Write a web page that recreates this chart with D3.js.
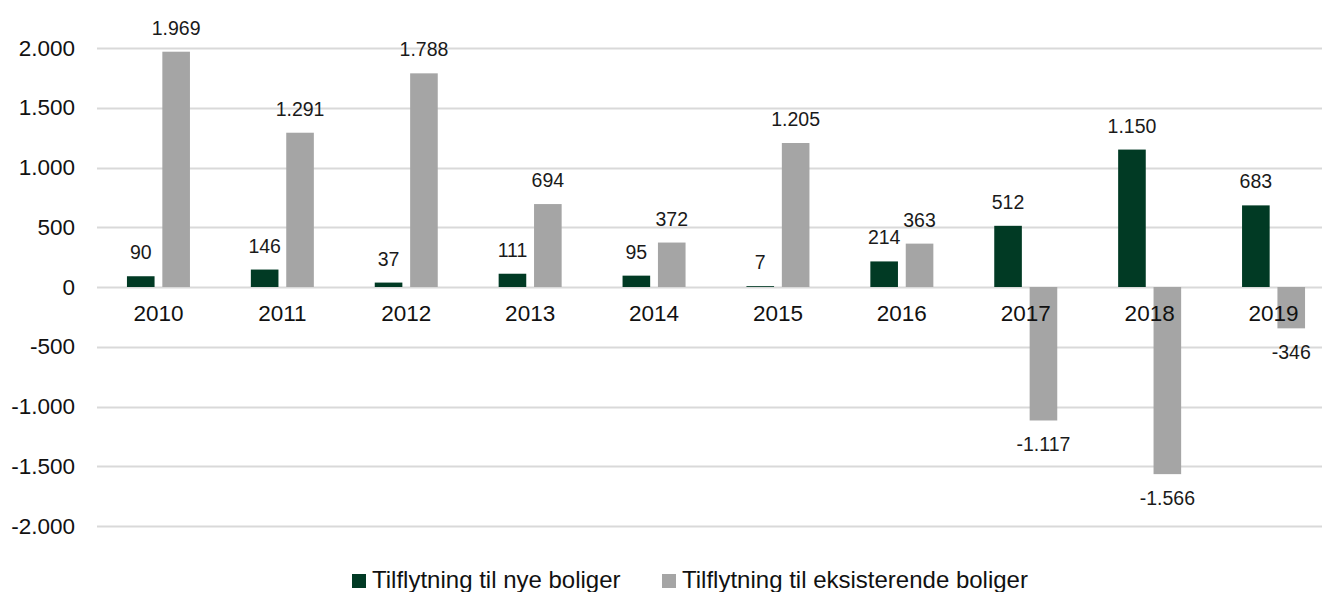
<!DOCTYPE html>
<html>
<head>
<meta charset="utf-8">
<script src="https://cdn.jsdelivr.net/npm/d3@7"></script>
<style>
  html, body { margin: 0; padding: 0; background: #fff; }
  svg { display: block; font-family: "Liberation Sans", Arial, sans-serif; }
</style>
</head>
<body>
<svg id="chart" width="1322" height="592"></svg>
<script>
const years = ["2010","2011","2012","2013","2014","2015","2016","2017","2018","2019"];
const seriesNames = ["Tilflytning til nye boliger", "Tilflytning til eksisterende boliger"];
const nyeBoliger = [90, 146, 37, 111, 95, 7, 214, 512, 1150, 683];
const eksisterendeBoliger = [1969, 1291, 1788, 694, 372, 1205, 363, -1117, -1566, -346];
const yTicks = [-2000, -1500, -1000, -500, 0, 500, 1000, 1500, 2000];
const colors = ["#013a24", "#a5a5a5"];

const svg = d3.select("#chart");
const fmt = v => {
  const s = Math.abs(v).toString().replace(/\B(?=(\d{3})+(?!\d))/g, ".");
  return (v < 0 ? "-" : "") + s;
};

const y = d3.scaleLinear().domain([-2000, 2000]).range([526, 48]);
const x0 = d3.scaleBand().domain(years).range([96.5, 1335.5]).padding(0);
const groupW = 63;

// gridlines
svg.append("g").selectAll("line").data(yTicks).join("line")
  .attr("x1", 97).attr("x2", 1322)
  .attr("y1", d => Math.round(y(d)) + 0.5).attr("y2", d => Math.round(y(d)) + 0.5)
  .attr("stroke", "#d9d9d9").attr("stroke-width", 2);

// y axis labels
const yAxis = d3.axisLeft(y).tickValues(yTicks).tickSize(0).tickPadding(0).tickFormat(fmt);
const gy = svg.append("g").attr("transform", "translate(75,0)").call(yAxis);
gy.select(".domain").remove();
gy.selectAll("text").attr("font-size", 22.5).attr("fill", "#111")
  .attr("font-family", "Liberation Sans, Arial, sans-serif");

const data = years.map((yr, i) => ({ year: yr, values: [nyeBoliger[i], eksisterendeBoliger[i]] }));

const groups = svg.append("g").selectAll("g").data(data).join("g");

groups.each(function(d) {
  const c = x0(d.year) + x0.bandwidth() / 2;
  const x1 = d3.scaleBand().domain([0, 1]).range([c - groupW / 2, c + groupW / 2]).paddingInner(0.22);
  const g = d3.select(this);
  d.values.forEach((v, s) => {
    g.append("rect")
      .attr("x", x1(s)).attr("width", x1.bandwidth())
      .attr("y", Math.min(y(v), y(0)))
      .attr("height", Math.abs(y(v) - y(0)))
      .attr("fill", colors[s]);
    g.append("text")
      .attr("x", x1(s) + x1.bandwidth() / 2)
      .attr("y", v >= 0 ? y(v) - 17 : y(v) + 31)
      .attr("text-anchor", "middle")
      .attr("font-size", 19.5)
      .attr("fill", "#1a1a1a")
      .text(fmt(v));
  });
});

// category labels
const xAxis = d3.axisBottom(x0).tickSize(0).tickPadding(0);
const gx = svg.append("g").attr("transform", "translate(0,305)").call(xAxis);
gx.select(".domain").remove();
gx.selectAll("text").attr("font-size", 22.5).attr("fill", "#111")
  .attr("font-family", "Liberation Sans, Arial, sans-serif");

// legend
const legendX = [352, 662];
const lg = svg.append("g").selectAll("g").data(seriesNames).join("g")
  .attr("transform", (d, i) => `translate(${legendX[i]},0)`);
lg.append("rect").attr("x", 0).attr("y", 574).attr("width", 14).attr("height", 14)
  .attr("fill", (d, i) => colors[i]);
lg.append("text").attr("x", 20).attr("y", 588).attr("font-size", 24).attr("fill", "#111")
  .text(d => d);
</script>
</body>
</html>
